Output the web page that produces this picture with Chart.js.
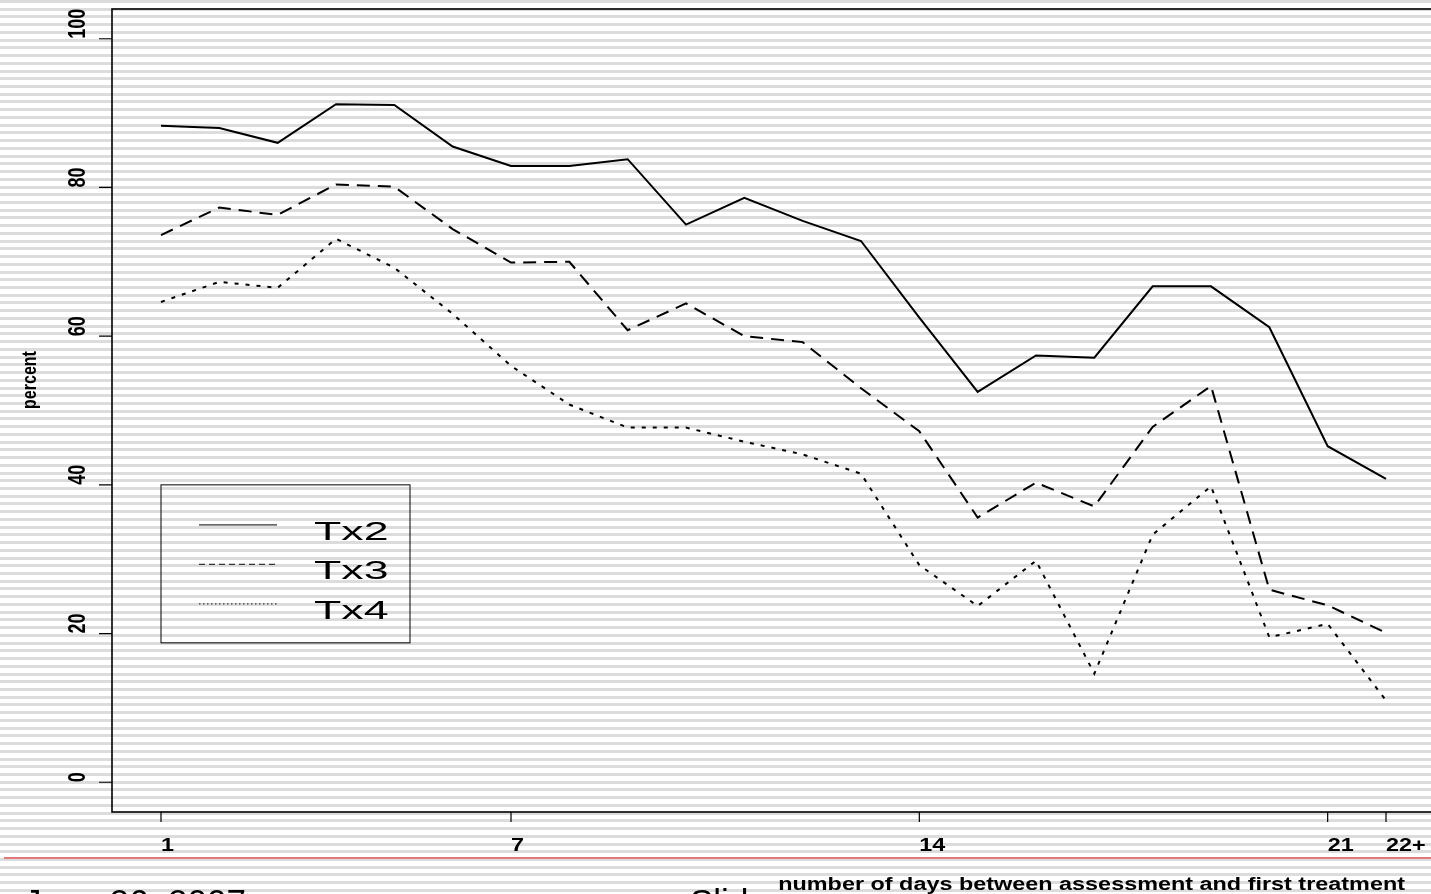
<!doctype html>
<html>

<head>
    <meta charset="utf-8">
    <title>percent by days</title>
    <script src="https://cdn.jsdelivr.net/npm/chart.js"></script>
    <style>
        html, body { margin: 0; padding: 0; overflow: hidden; width: 1431px; height: 894px; }
        body {
            position: relative;
            background: repeating-linear-gradient(to bottom, #dcdcdc 0px, #dcdcdc 3px, #ffffff 3px, #ffffff 7.73px);
            font-family: "Liberation Sans", Arial, sans-serif;
        }
        #grafico { position: absolute; left: 0; top: 0; }
        .regua { position: absolute; left: 4px; top: 857px; width: 1427px; height: 2px; background: #e07a7a; }
        .rodape { position: absolute; top: 884px; font-size: 35px; line-height: 35px; color: #000; white-space: nowrap; }
    </style>
</head>

<body>
    <canvas id="grafico" width="1440" height="894"></canvas>
    <div class="regua"></div>
    <div class="rodape" style="left: 24px;">June 26, 2007</div>
    <div class="rodape" style="left: 690px;">Slide</div>

    <script>
        var days = [1, 2, 3, 4, 5, 6, 7, 8, 9, 10, 11, 12, 13, 14, 15, 16, 17, 18, 19, 20, 21, 22];
        var tx2 = [88.3, 88.0, 86.0, 91.2, 91.1, 85.5, 82.9, 82.9, 83.8, 75.0, 78.6, 75.5, 72.8, 62.5, 52.5, 57.4, 57.1, 66.7, 66.7, 61.2, 45.2, 40.8];
        var tx3 = [73.6, 77.3, 76.3, 80.4, 80.1, 74.4, 69.9, 70.0, 60.8, 64.4, 60.0, 59.2, 53.0, 47.2, 35.6, 40.3, 37.1, 47.8, 53.3, 25.9, 23.8, 20.1];
        var tx4 = [64.6, 67.3, 66.5, 73.1, 69.2, 63.0, 56.0, 50.8, 47.7, 47.7, 45.8, 44.1, 41.5, 29.2, 23.7, 29.8, 14.6, 33.3, 39.8, 19.5, 21.3, 11.0];
        var seriesNames = ['Tx2', 'Tx3', 'Tx4'];
        var xTickValues = [1, 7, 14, 21, 22];
        var xTickLabels = ['1', '7', '14', '21', '22+'];
        var yTickValues = [0, 20, 40, 60, 80, 100];
        var yTitle = 'percent';
        var xTitle = 'number of days between assessment and first treatment';

        var estilos = [
            { dash: [], legendDash: [] },
            { dash: [13, 8], legendDash: [6, 4] },
            { dash: [4, 7], legendDash: [1.5, 2.5] }
        ];

        // the R picture is stretched sideways, so its text is too
        function texto(ctx, str, x, y, font, align, rot, esticar) {
            ctx.save();
            ctx.translate(x, y);
            ctx.scale(esticar || 1.3, 1);
            if (rot) ctx.rotate(rot);
            ctx.font = font;
            ctx.fillStyle = '#000';
            ctx.textAlign = align;
            ctx.textBaseline = 'alphabetic';
            ctx.fillText(str, 0, 0);
            ctx.restore();
        }

        var molduraR = {
            id: 'molduraR',
            afterDatasetsDraw(chart) {
                var ctx = chart.ctx;
                var area = chart.chartArea;
                var sx = chart.scales.x;
                var sy = chart.scales.y;

                ctx.save();
                ctx.strokeStyle = '#000';
                ctx.lineWidth = 1.6;
                ctx.strokeRect(area.left, area.top, area.right - area.left, area.bottom - area.top);

                // ticks
                ctx.beginPath();
                yTickValues.forEach(function (v) {
                    var py = sy.getPixelForValue(v);
                    ctx.moveTo(area.left, py);
                    ctx.lineTo(area.left - 13, py);
                });
                xTickValues.forEach(function (v) {
                    var px = sx.getPixelForValue(v);
                    ctx.moveTo(px, area.bottom);
                    ctx.lineTo(px, area.bottom + 10);
                });
                ctx.lineWidth = 1.2;
                ctx.stroke();
                ctx.restore();

                yTickValues.forEach(function (v) {
                    texto(ctx, String(v), area.left - 27, sy.getPixelForValue(v), 'bold 18px "Liberation Sans"', 'left', -Math.PI / 2);
                });
                xTickValues.forEach(function (v, i) {
                    texto(ctx, xTickLabels[i], sx.getPixelForValue(v), area.bottom + 39, 'bold 18px "Liberation Sans"', 'left', 0);
                });
                texto(ctx, yTitle, 36, 380, 'bold 16px "Liberation Sans"', 'center', -Math.PI / 2);
                texto(ctx, xTitle, 1405, 890, 'bold 18px "Liberation Sans"', 'right', 0);

                // legend box, anchored at x = 1, y = 40 like legend(1, 40, ...)
                var lx = sx.getPixelForValue(1);
                var ly = sy.getPixelForValue(40);
                ctx.save();
                ctx.strokeStyle = '#000';
                ctx.lineWidth = 1;
                ctx.strokeRect(lx, ly, 249, 158);
                chart.data.datasets.forEach(function (ds, i) {
                    var ry = ly + 40 + i * 39.5;
                    ctx.beginPath();
                    ctx.setLineDash(estilos[i].legendDash);
                    ctx.strokeStyle = '#333';
                    ctx.lineWidth = 1.2;
                    ctx.moveTo(lx + 38, ry);
                    ctx.lineTo(lx + 116, ry);
                    ctx.stroke();
                    ctx.setLineDash([]);
                    texto(ctx, ds.label, lx + 153, ry + 15, '26px "Liberation Sans"', 'left', 0, 1.72);
                });
                ctx.restore();
            }
        };

        var datasets = [tx2, tx3, tx4].map(function (serie, i) {
            return {
                label: seriesNames[i],
                data: days.map(function (d, j) { return { x: d, y: serie[j] }; }),
                borderColor: '#000',
                borderWidth: 2,
                borderDash: estilos[i].dash,
                pointRadius: 0,
                tension: 0,
                fill: false
            };
        });

        var grafico = new Chart(document.getElementById('grafico').getContext('2d'), {
            type: 'line',
            data: { datasets: datasets },
            options: {
                responsive: false,
                animation: false,
                layout: { padding: { left: 112, top: 9, right: 5, bottom: 82 } },
                plugins: { legend: { display: false }, tooltip: { enabled: false } },
                scales: {
                    x: { type: 'linear', min: 0.16, max: 22.84, display: false },
                    y: { min: -4, max: 104, display: false }
                }
            },
            plugins: [molduraR]
        });
    </script>
</body>

</html>
